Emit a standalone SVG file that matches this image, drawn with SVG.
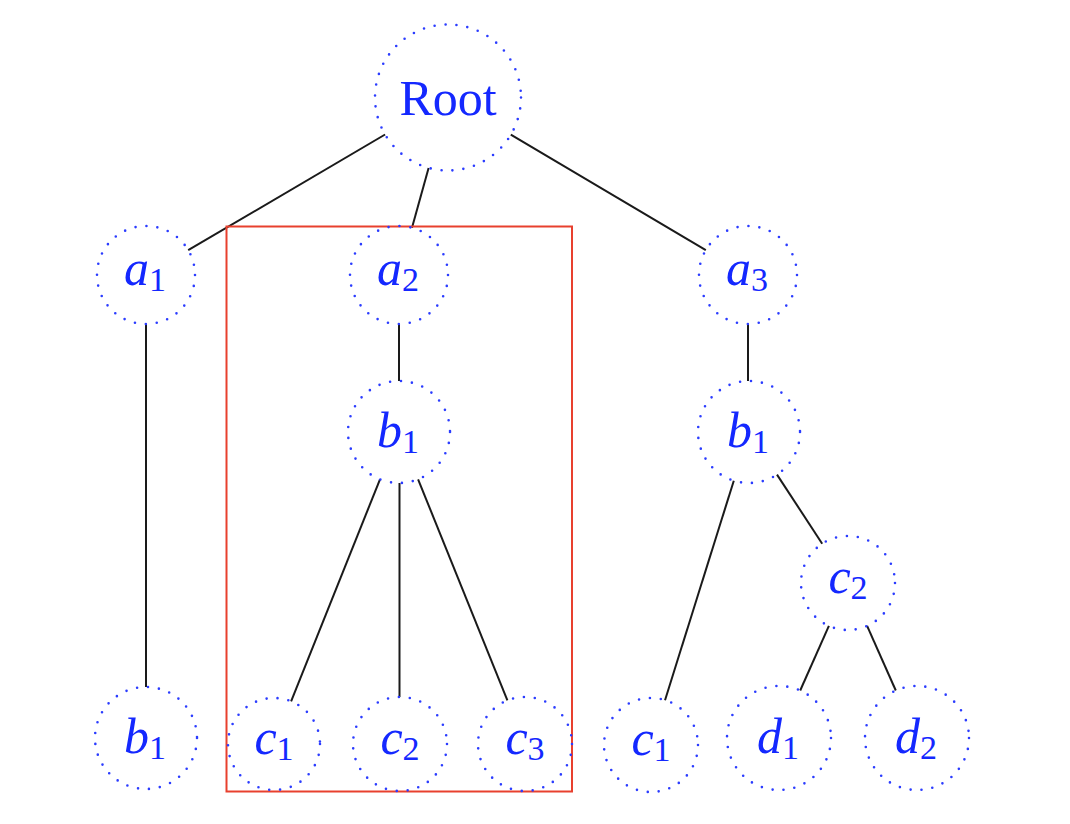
<svg xmlns="http://www.w3.org/2000/svg" width="1070" height="824" viewBox="0 0 1070 824">
<style>
.n{fill:none;stroke:#2b3cff;stroke-width:2.6;stroke-dasharray:0 11;stroke-linecap:round}
.t{font-family:"Liberation Serif","DejaVu Serif",serif;font-size:50px;fill:#1428ff;text-anchor:middle}
.i{font-style:italic}
.s{font-size:34px}
.e{stroke:#1a1a1a;stroke-width:2;fill:none}
</style>
<rect width="1070" height="824" fill="#ffffff"/>
<g id="connectors">
<line class="e" x1="385.1" y1="134.5" x2="188.2" y2="250.2"/>
<line class="e" x1="428.6" y1="167.9" x2="412" y2="227.8"/>
<line class="e" x1="510.8" y1="134.7" x2="705.8" y2="250.1"/>
<line class="e" x1="146" y1="324" x2="146" y2="687"/>
<line class="e" x1="399" y1="324" x2="399" y2="381"/>
<line class="e" x1="748" y1="324" x2="748" y2="381"/>
<line class="e" x1="380" y1="479.3" x2="291.1" y2="701.3"/>
<line class="e" x1="399.5" y1="483" x2="399.5" y2="697"/>
<line class="e" x1="418.1" y1="479.3" x2="507.4" y2="700.4"/>
<line class="e" x1="733.8" y1="480.7" x2="665" y2="700.2"/>
<line class="e" x1="777" y1="474.6" x2="822.2" y2="543.7"/>
<line class="e" x1="828.9" y1="625.9" x2="800.2" y2="690.5"/>
<line class="e" x1="867.1" y1="625.9" x2="895.8" y2="690.5"/>
</g>
<rect id="highlight" x="226.5" y="226.5" width="345.5" height="565" fill="none" stroke="#e8402e" stroke-width="2"/>
<g id="root"><circle class="n" cx="448" cy="97.5" r="73"/><text class="t" x="448" y="115">Root</text></g>
<g id="a1"><circle class="n" cx="146" cy="275" r="49"/><text class="t" x="145" y="285"><tspan class="i">a</tspan><tspan class="s" dy="6">1</tspan></text></g>
<g id="a2"><circle class="n" cx="399" cy="275" r="49"/><text class="t" x="398" y="285"><tspan class="i">a</tspan><tspan class="s" dy="6">2</tspan></text></g>
<g id="a3"><circle class="n" cx="748" cy="275" r="49"/><text class="t" x="747" y="285"><tspan class="i">a</tspan><tspan class="s" dy="6">3</tspan></text></g>
<g id="b1_mid"><circle class="n" cx="399" cy="432" r="51"/><text class="t" x="398" y="447"><tspan class="i">b</tspan><tspan class="s" dy="6">1</tspan></text></g>
<g id="b1_right"><circle class="n" cx="749" cy="432" r="51"/><text class="t" x="748" y="447"><tspan class="i">b</tspan><tspan class="s" dy="6">1</tspan></text></g>
<g id="c2_right"><circle class="n" cx="848" cy="583" r="47"/><text class="t" x="848" y="593"><tspan class="i">c</tspan><tspan class="s" dy="6">2</tspan></text></g>
<g id="b1_left"><circle class="n" cx="146" cy="738" r="51"/><text class="t" x="145" y="753"><tspan class="i">b</tspan><tspan class="s" dy="6">1</tspan></text></g>
<g id="c1_mid"><circle class="n" cx="274" cy="744" r="46"/><text class="t" x="274" y="754"><tspan class="i">c</tspan><tspan class="s" dy="6">1</tspan></text></g>
<g id="c2_mid"><circle class="n" cx="400" cy="744" r="47"/><text class="t" x="400" y="754"><tspan class="i">c</tspan><tspan class="s" dy="6">2</tspan></text></g>
<g id="c3_mid"><circle class="n" cx="525" cy="744" r="47"/><text class="t" x="525" y="754"><tspan class="i">c</tspan><tspan class="s" dy="6">3</tspan></text></g>
<g id="c1_right"><circle class="n" cx="651" cy="745" r="47"/><text class="t" x="651" y="755"><tspan class="i">c</tspan><tspan class="s" dy="6">1</tspan></text></g>
<g id="d1"><circle class="n" cx="779" cy="738" r="52"/><text class="t" x="778" y="753"><tspan class="i">d</tspan><tspan class="s" dy="6">1</tspan></text></g>
<g id="d2"><circle class="n" cx="917" cy="738" r="52"/><text class="t" x="916" y="753"><tspan class="i">d</tspan><tspan class="s" dy="6">2</tspan></text></g>
</svg>
